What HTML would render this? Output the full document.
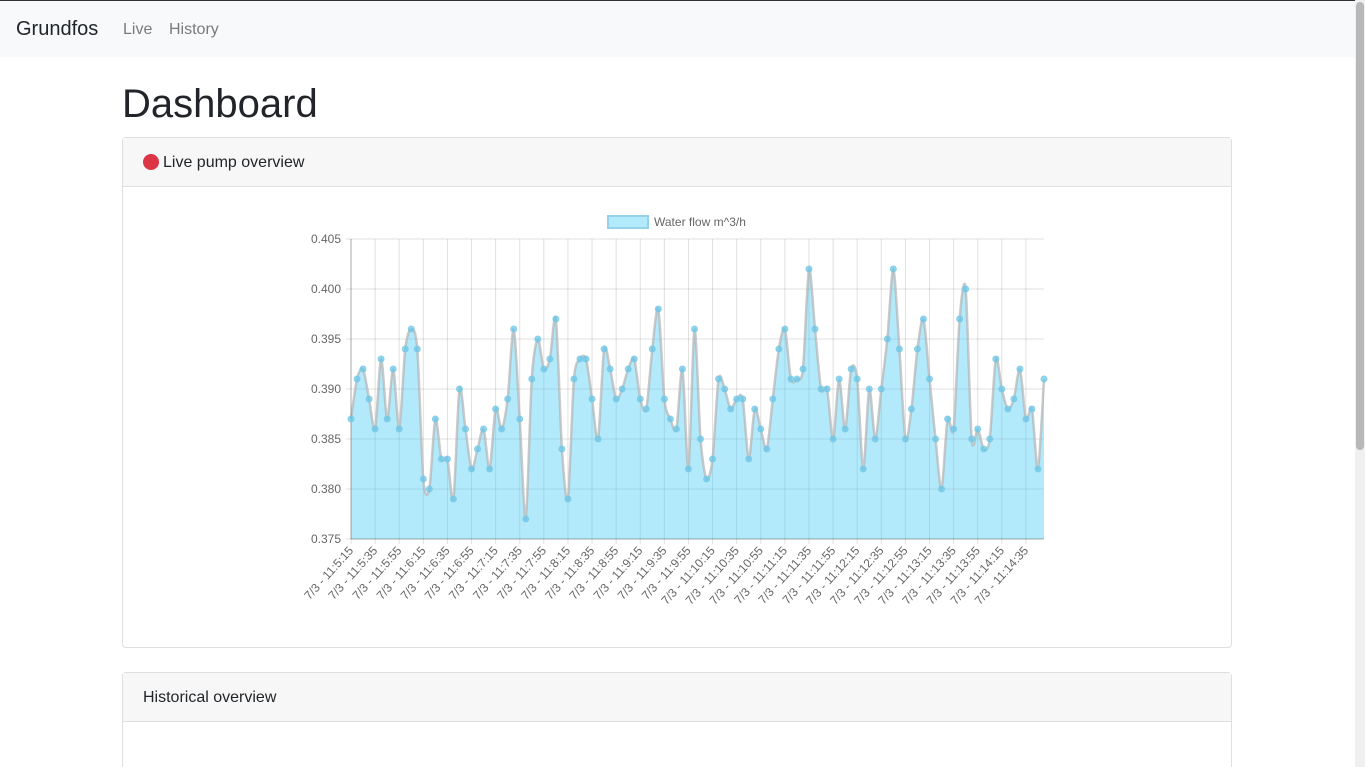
<!DOCTYPE html>
<html><head><meta charset="utf-8"><style>
html,body{margin:0;width:1365px;height:767px;overflow:hidden}
body{font-family:"Liberation Sans",sans-serif;background:#fff;position:relative}
.nav{position:absolute;left:0;top:0;width:1355px;height:56px;background:#f8f9fa;border-top:1px solid #333}
.brand{position:absolute;left:16px;top:17px;font-size:20px;color:#212529}
.lnk{position:absolute;top:20px;font-size:16px;color:#7a7a7a}
h1{position:absolute;left:122px;top:82px;margin:0;font-size:40px;font-weight:400;color:#212529}
.card{position:absolute;left:122px;width:1108px;border:1px solid #dfdfdf;border-radius:4px;background:#fff}
.ch{height:48px;background:#f7f7f7;border-bottom:1px solid #dfdfdf;font-size:16px;color:#212529;position:relative}
.sb{position:absolute;left:1355px;top:0;width:10px;height:767px;background:#f0f0f0}
.th{position:absolute;left:1356px;top:2px;width:8px;height:448px;background:#b8b8b8;border-radius:4px}
</style></head><body>
<div class="nav">
<span class="brand">Grundfos</span>
<span class="lnk" style="left:123px">Live</span>
<span class="lnk" style="left:169px">History</span>
</div>
<h1>Dashboard</h1>
<div class="card" style="top:137px;height:509px">
<div class="ch"><span style="position:absolute;left:20px;top:16px;width:16px;height:16px;border-radius:50%;background:#dc3545"></span><span style="position:absolute;left:40px;top:16px">Live pump overview</span></div>
</div>
<div class="card" style="top:672px;height:120px">
<div class="ch"><span style="position:absolute;left:20px;top:16px">Historical overview</span></div>
</div>
<svg id="chart" width="1365" height="767" style="position:absolute;left:0;top:0"></svg>
<div class="sb"></div><div class="th"></div>
<script>
const values=[0.387,0.391,0.392,0.389,0.386,0.393,0.387,0.392,0.386,0.394,0.396,0.394,0.381,0.380,0.387,0.383,0.383,0.379,0.390,0.386,0.382,0.384,0.386,0.382,0.388,0.386,0.389,0.396,0.387,0.377,0.391,0.395,0.392,0.393,0.397,0.384,0.379,0.391,
0.393,0.393,0.389,0.385,0.394,0.392,0.389,0.390,0.392,0.393,0.389,0.388,0.394,0.398,0.389,0.387,0.386,0.392,0.382,0.396,0.385,0.381,0.383,0.391,0.390,0.388,0.389,0.389,0.383,0.388,0.386,0.384,0.389,0.394,0.396,0.391,0.391,0.392,0.402,
0.396,0.390,0.390,0.385,0.391,0.386,0.392,0.391,0.382,0.390,0.385,0.390,0.395,0.402,0.394,0.385,0.388,0.394,0.397,0.391,0.385,0.380,0.387,0.386,0.397,0.400,0.385,0.386,0.384,0.385,0.393,0.390,0.388,0.389,0.392,0.387,0.388,0.382,0.391];
const yTicks=[0.375,0.380,0.385,0.390,0.395,0.400,0.405];
const startSec=11*3600+5*60+15, stepSec=5, labelEvery=4;
const svg=document.getElementById('chart');const NS='http://www.w3.org/2000/svg';
const L=351,R=1044,T=239,B=539,yMin=0.375,yMax=0.405;
const xs=i=>L+i*(R-L)/(values.length-1);
const ys=v=>B-(v-yMin)/(yMax-yMin)*(B-T);
function mk(t,a){const e=document.createElementNS(NS,t);for(const k in a)e.setAttribute(k,a[k]);svg.appendChild(e);return e;}
yTicks.forEach(v=>{const g=mk('line',{x1:L-5,x2:R,y1:ys(v),y2:ys(v),stroke:'rgba(0,0,0,0.12)'});


const t=mk('text',{x:L-10,y:ys(v)+4,'text-anchor':'end','font-size':'12',fill:'#666','font-family':'Liberation Sans'});t.textContent=v.toFixed(3);

});
function fmt(s){const h=Math.floor(s/3600),m=Math.floor(s%3600/60),sec=s%60;return '7/3 - '+h+':'+m+':'+sec;}
for(let i=0;i<values.length;i+=labelEvery){const x=xs(i);
const g=mk('line',{x1:x,x2:x,y1:T,y2:B+5,stroke:'rgba(0,0,0,0.12)'});


const t=mk('text',{x:x+3,y:B+12,'text-anchor':'end','font-size':'12',fill:'#666','font-family':'Liberation Sans',transform:`rotate(-48 ${x+3} ${B+12})`});
t.textContent=fmt(startSec+i*stepSec);

}
const P=values.map((v,i)=>[xs(i),ys(v)]);
let d='M'+P[0][0]+','+P[0][1];
for(let i=0;i<P.length-1;i++){const p0=P[Math.max(i-1,0)],p1=P[i],p2=P[i+1],p3=P[Math.min(i+2,P.length-1)];const k=0.14;
d+=` C${p1[0]+(p2[0]-p0[0])*k},${p1[1]+(p2[1]-p0[1])*k} ${p2[0]-(p3[0]-p1[0])*k},${p2[1]-(p3[1]-p1[1])*k} ${p2[0]},${p2[1]}`;}
const area=mk('path',{d:d+` L${R},${B} L${L},${B} Z`,fill:'rgba(54,200,245,0.38)'});


const line=mk('path',{d:d,fill:'none',stroke:'rgba(180,180,180,0.7)','stroke-width':'2.5'});


mk('line',{x1:L,x2:L,y1:T,y2:B,stroke:'rgba(0,0,0,0.25)'});
mk('line',{x1:L,x2:R,y1:B,y2:B,stroke:'rgba(0,0,0,0.25)'});
P.forEach(p=>{const c=mk('circle',{cx:p[0],cy:p[1],r:3,fill:'rgba(100,200,235,0.7)',stroke:'rgba(120,200,230,0.8)'});

});
const lb=mk('rect',{x:608,y:216,width:40,height:12,fill:'rgba(54,200,245,0.38)',stroke:'rgba(150,210,235,1)','stroke-width':'2'});


const lt=mk('text',{x:654,y:226,'font-size':'12',fill:'#666','font-family':'Liberation Sans'});lt.textContent='Water flow m^3/h';


</script>
</body></html>
